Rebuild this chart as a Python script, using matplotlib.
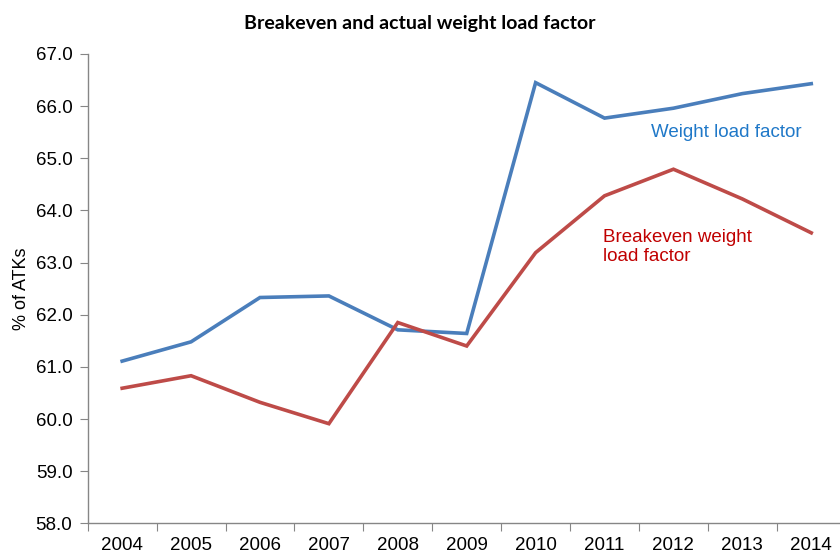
import numpy as np
import matplotlib.pyplot as plt
from matplotlib.ticker import FixedLocator, MultipleLocator

years = ['2004', '2005', '2006', '2007', '2008', '2009', '2010', '2011', '2012', '2013', '2014']
weight_lf = [61.11, 61.48, 62.33, 62.36, 61.71, 61.64, 66.45, 65.77, 65.96, 66.24, 66.43]
breakeven_lf = [60.59, 60.83, 60.32, 59.91, 61.85, 61.40, 63.19, 64.28, 64.79, 64.22, 63.57]

plt.rcParams['font.family'] = ['Liberation Sans', 'DejaVu Sans']

fig = plt.figure(figsize=(8.4, 5.53), dpi=100)
ax = fig.add_axes([0.1044, 0.0537, 0.9024, 0.8487])

x = np.arange(len(years))
ax.plot(x, weight_lf, color='#4a7ebb', lw=2.6, solid_joinstyle='miter')
ax.plot(x, breakeven_lf, color='#be4b48', lw=2.6, solid_joinstyle='miter')

ax.set_xlim(-0.5, len(years) - 0.5)
ax.set_ylim(58, 67)
ax.yaxis.set_major_locator(MultipleLocator(1))
ax.yaxis.set_major_formatter(plt.FuncFormatter(lambda v, p: '%.1f' % v))

ax.xaxis.set_major_locator(FixedLocator(np.arange(len(years) + 1) - 0.5))
ax.xaxis.set_minor_locator(FixedLocator(x))
ax.set_xticklabels([], minor=False)
ax.set_xticklabels(years, minor=True)
ax.tick_params(axis='x', which='major', length=6, color='#868686', direction='out')
ax.tick_params(axis='x', which='minor', length=0, pad=10, labelsize=13.5)
ax.tick_params(axis='y', length=6, color='#868686', direction='out', labelsize=13.5, pad=5)

for s in ['top', 'right']:
    ax.spines[s].set_visible(False)
for s in ['left', 'bottom']:
    ax.spines[s].set_color('#868686')
    ax.spines[s].set_linewidth(1.0)

ax.set_ylabel('% of ATKs', fontsize=13, labelpad=4)

ax.text(7.68, 65.49, 'Weight load factor', color='#1f78c8', fontsize=13.5, va='center', ha='left')
ax.text(6.98, 63.64, 'Breakeven weight\nload factor', color='#c00000', fontsize=13.5,
        va='top', ha='left', linespacing=1.12)

fig.text(0.5, 0.958, 'Breakeven and actual weight load factor', ha='center', va='center',
         fontsize=14, fontweight='bold', family=['Lato', 'DejaVu Sans'])

fig.savefig('out.png', dpi=100)
